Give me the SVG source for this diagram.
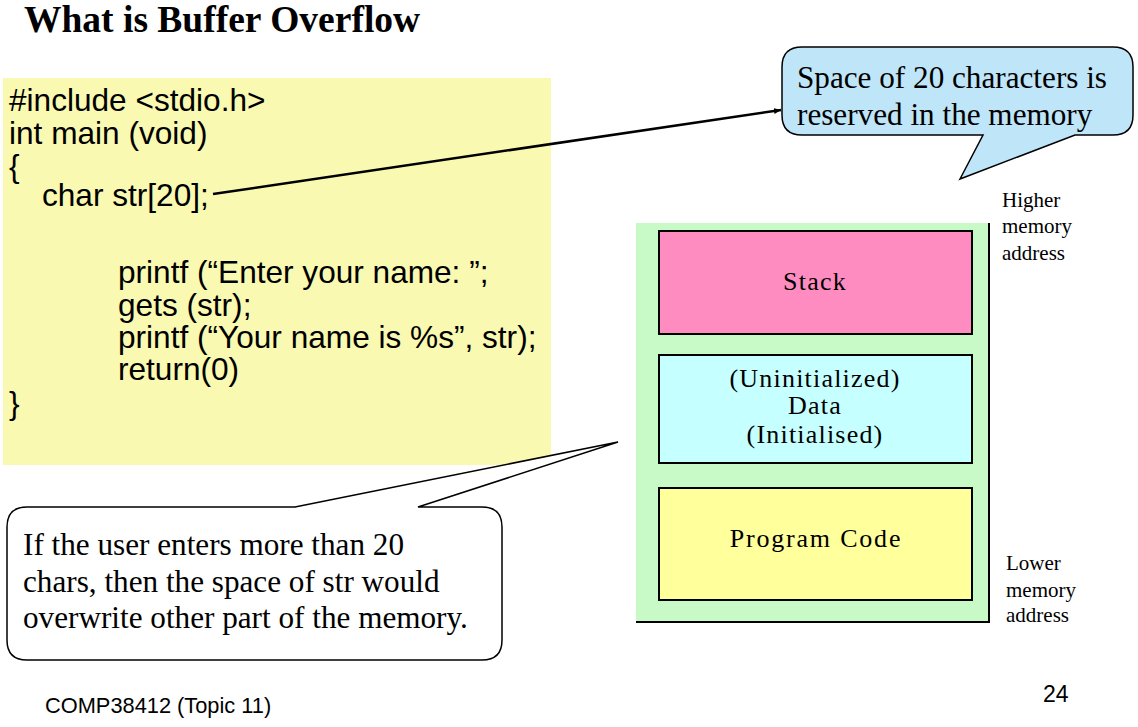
<svg xmlns="http://www.w3.org/2000/svg" width="1138" height="727" viewBox="0 0 1138 727">
<defs>
<style>
.serif{font-family:"Liberation Serif","Times New Roman",serif;fill:#000}
.sans{font-family:"Liberation Sans",Arial,sans-serif;fill:#000}
.code{font-size:31.6px}
.seg{stroke:#000;stroke-width:2}
.lbl{font-size:26px;letter-spacing:1.2px;text-anchor:middle}
.addr{font-size:21px}
.callout{stroke:#000;stroke-width:1.5}
</style>
<marker id="ah" markerWidth="8" markerHeight="8" refX="7" refY="4" orient="auto" markerUnits="userSpaceOnUse">
<path d="M0,1 L7,4 L0,7 z" fill="#000"/>
</marker>
</defs>
<rect width="1138" height="727" fill="#fff"/>

<text class="serif" x="24" y="32" font-size="37.5" font-weight="bold">What is Buffer Overflow</text>

<g id="code">
<rect x="3" y="78" width="548" height="387" fill="#F9F9B2"/>
<text class="sans code" x="9" y="111">#include &lt;stdio.h&gt;</text>
<text class="sans code" x="9" y="144">int main (void)</text>
<text class="sans code" x="9" y="177">{</text>
<text class="sans code" x="42" y="206">char str[20];</text>
<text class="sans code" x="118" y="283">printf (“Enter your name: ”;</text>
<text class="sans code" x="118" y="316">gets (str);</text>
<text class="sans code" x="118" y="348">printf (“Your name is %s”, str);</text>
<text class="sans code" x="118" y="380">return(0)</text>
<text class="sans code" x="9" y="414">}</text>
</g>

<g id="memory">
<rect x="636" y="223" width="353" height="399" fill="#C8FAC8"/>
<path d="M989,223 V622 H636" fill="none" stroke="#000" stroke-width="2"/>
</g>
<g id="stack">
<rect class="seg" x="659" y="231" width="313" height="103" fill="#FF8CC0"/>
<text class="serif lbl" x="815" y="290">Stack</text>
</g>
<g id="data">
<rect class="seg" x="659" y="355" width="313" height="108" fill="#C6FFFF"/>
<text class="serif lbl" x="815" y="387">(Uninitialized)</text>
<text class="serif lbl" x="815" y="414">Data</text>
<text class="serif lbl" x="815" y="443">(Initialised)</text>
</g>
<g id="program-code">
<rect class="seg" x="659" y="488" width="313" height="112" fill="#FFFF9C"/>
<text class="serif lbl" x="816" y="547" style="letter-spacing:1.8px">Program Code</text>
</g>

<g id="higher-address">
<text class="serif addr" x="1002" y="207">Higher</text>
<text class="serif addr" x="1002" y="233">memory</text>
<text class="serif addr" x="1002" y="260">address</text>
</g>
<g id="lower-address">
<text class="serif addr" x="1006" y="570">Lower</text>
<text class="serif addr" x="1006" y="597">memory</text>
<text class="serif addr" x="1006" y="622">address</text>
</g>

<g id="callout-space">
<path class="callout" d="M802,47 H1113 Q1133,47 1133,67 V115 Q1133,135 1113,135 H1075 L960,179 L983,135 H802 Q782,135 782,115 V67 Q782,47 802,47 Z" fill="#BFE5F8"/>
<text class="serif" x="797" y="88" font-size="31.2">Space of 20 characters is</text>
<text class="serif" x="797" y="125" font-size="31.2">reserved in the memory</text>
</g>

<g id="callout-overflow">
<path class="callout" d="M27,507 H295 L618,442 L418,507 H482 Q502,507 502,527 V640 Q502,660 482,660 H27 Q7,660 7,640 V527 Q7,507 27,507 Z" fill="#fff"/>
<text class="serif" x="23" y="555" font-size="31.2">If the user enters more than 20</text>
<text class="serif" x="23" y="592" font-size="31.2">chars, then the space of str would</text>
<text class="serif" x="23" y="628" font-size="31.2">overwrite other part of the memory.</text>
</g>

<g id="connectors">
<line x1="213" y1="194" x2="781" y2="110" stroke="#000" stroke-width="2.5" marker-end="url(#ah)"/>
</g>

<text class="sans" x="45" y="713" font-size="21.8">COMP38412 (Topic 11)</text>
<text class="sans" x="1043" y="702" font-size="23">24</text>
</svg>
